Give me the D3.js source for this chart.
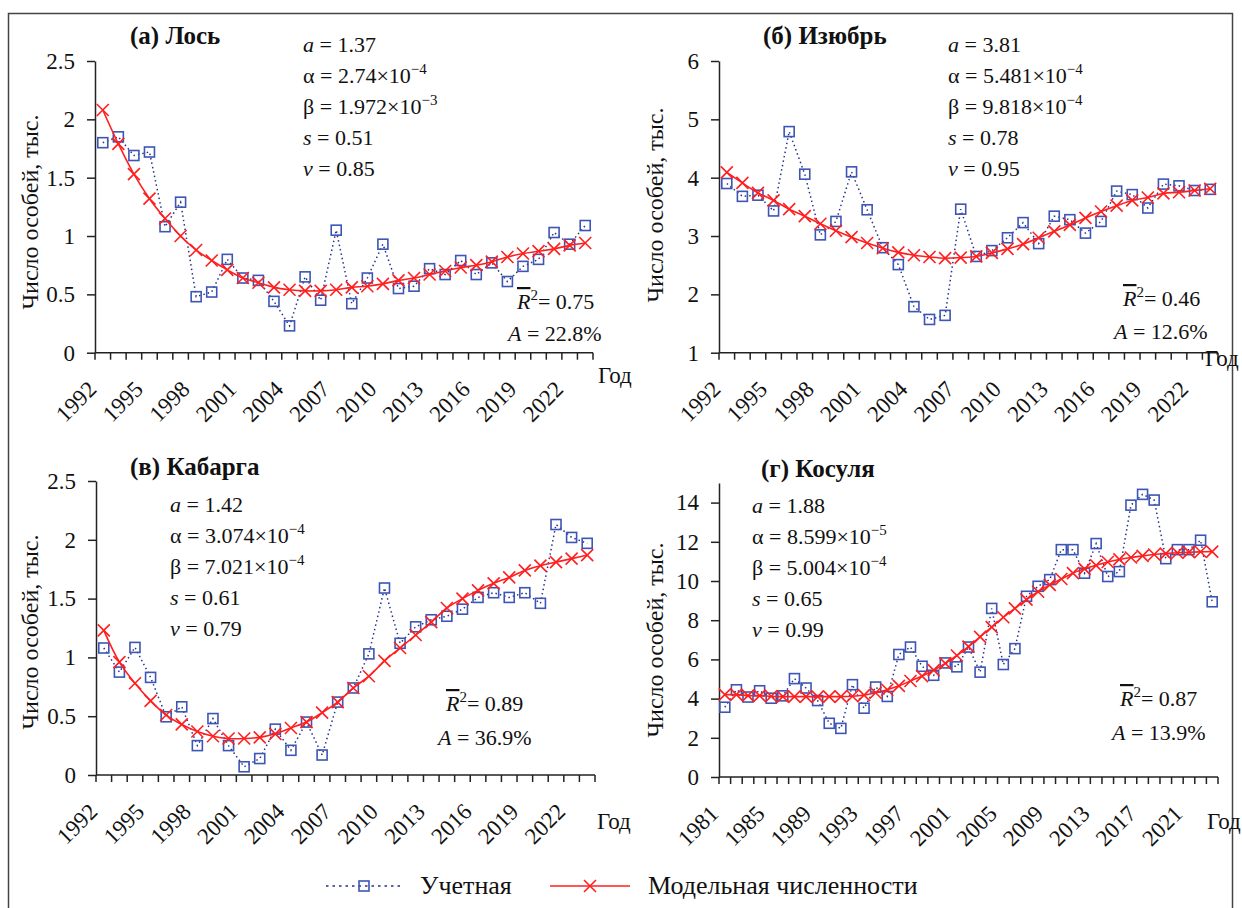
<!DOCTYPE html>
<html>
<head>
<meta charset="utf-8">
<script src="https://cdn.jsdelivr.net/npm/d3@7"></script>
<style>
  body { margin: 0; background: #fff; }
  svg { display: block; font-family: "Liberation Serif", "Times New Roman", serif; }
  svg text { font-family: "Liberation Serif", "Times New Roman", serif; fill: #111; }
  .axis path, .axis line { stroke: #222; stroke-width: 1.5; }
  .axis text { font-size: 23px; }
</style>
</head>
<body>
<div id="chart"></div>
<script>
var width = 1242, height = 908;

// categories
var years92 = [1992,1993,1994,1995,1996,1997,1998,1999,2000,2001,2002,2003,2004,2005,2006,2007,
               2008,2009,2010,2011,2012,2013,2014,2015,2016,2017,2018,2019,2020,2021,2022,2023];
var years81 = [1981,1982,1983,1984,1985,1986,1987,1988,1989,1990,1991,1992,1993,1994,1995,1996,1997,
               1998,1999,2000,2001,2002,2003,2004,2005,2006,2007,2008,2009,2010,2011,2012,2013,2014,
               2015,2016,2017,2018,2019,2020,2021,2022,2023];

// (а) Лось
var mooseObs   = [1.80,1.85,1.69,1.72,1.08,1.29,0.48,0.52,0.80,0.64,0.62,0.44,0.23,0.65,0.45,1.05,
                  0.42,0.64,0.93,0.55,0.57,0.72,0.67,0.79,0.67,0.77,0.61,0.74,0.80,1.03,0.93,1.09];
var mooseModel = [2.08,1.79,1.53,1.32,1.15,1.00,0.88,0.79,0.71,0.64,0.60,0.56,0.54,0.53,0.53,0.54,
                  0.56,0.57,0.59,0.62,0.64,0.67,0.70,0.73,0.75,0.78,0.82,0.85,0.87,0.89,0.92,0.94];
// (б) Изюбрь
var wapitiObs   = [3.90,3.68,3.70,3.43,4.79,4.06,3.02,3.25,4.10,3.45,2.80,2.51,1.79,1.57,1.64,3.46,
                   2.65,2.75,2.97,3.23,2.87,3.34,3.28,3.05,3.25,3.77,3.71,3.48,3.89,3.86,3.78,3.80];
var wapitiModel = [4.09,3.91,3.74,3.61,3.46,3.34,3.21,3.09,2.98,2.88,2.79,2.72,2.67,2.64,2.62,2.63,
                   2.65,2.71,2.78,2.86,2.97,3.08,3.19,3.31,3.42,3.52,3.61,3.66,3.73,3.75,3.78,3.81];
// (в) Кабарга
var muskObs   = [1.08,0.875,1.085,0.83,0.495,0.58,0.25,0.48,0.25,0.07,0.14,0.39,0.21,0.45,0.17,0.62,
                 0.74,1.03,1.59,1.12,1.26,1.32,1.35,1.41,1.51,1.55,1.51,1.55,1.46,2.13,2.02,1.97];
var muskModel = [1.23,0.96,0.78,0.63,0.51,0.43,0.37,0.33,0.31,0.31,0.32,0.35,0.40,0.45,0.53,0.62,
                 0.74,0.84,0.97,1.08,1.19,1.30,1.42,1.50,1.57,1.63,1.68,1.74,1.78,1.81,1.84,1.87];
// (г) Косуля
var roeObs   = [3.56,4.45,4.08,4.40,4.02,4.14,5.02,4.54,3.90,2.74,2.48,4.71,3.51,4.59,4.11,6.25,6.63,
                5.65,5.19,5.82,5.62,6.63,5.35,8.60,5.74,6.55,9.22,9.73,10.07,11.60,11.60,10.40,11.91,
                10.23,10.48,13.87,14.42,14.13,11.14,11.60,11.60,12.08,8.94];
var roeModel = [4.20,4.20,4.15,4.15,4.12,4.10,4.10,4.10,4.10,4.10,4.10,4.12,4.18,4.30,4.45,4.65,4.90,
                5.15,5.45,5.80,6.20,6.65,7.15,7.65,8.15,8.60,9.05,9.45,9.80,10.10,10.40,10.62,10.80,
                10.97,11.10,11.20,11.28,11.35,11.40,11.44,11.47,11.49,11.50];

// tick labels
var ticks25 = [0, 0.5, 1, 1.5, 2, 2.5];
var ticks16 = [1, 2, 3, 4, 5, 6];
var ticks14 = [0, 2, 4, 6, 8, 10, 12, 14];

// annotation texts: a, α mantissa, α exp, β mantissa, β exp, s, v, R², A
var textA = ["1.37", "2.74", "−4", "1.972", "−3", "0.51", "0.85", "0.75", "22.8%"];
var textB = ["3.81", "5.481", "−4", "9.818", "−4", "0.78", "0.95", "0.46", "12.6%"];
var textC = ["1.42", "3.074", "−4", "7.021", "−4", "0.61", "0.79", "0.89", "36.9%"];
var textD = ["1.88", "8.599", "−5", "5.004", "−4", "0.65", "0.99", "0.87", "13.9%"];

var blue = "#3d55b5", blueLine = "#25318f", red = "#ff1f1f";

var panels = [
  {title: "(а) Лось", years: years92, obs: mooseObs, model: mooseModel, dom: [0, 2.5], ticks: ticks25, txt: textA,
   x0: 95, x1: 593, yb: 352.7, yt: 61, every: 3, tx: 130, ty: 44, px: 303, py: 52, rx: 517, ry: 309, ax: 508, ay: 341,
   gx: 598, gy: 383, lx: 38, ly: 212},
  {title: "(б) Изюбрь", years: years92, obs: wapitiObs, model: wapitiModel, dom: [1, 6], ticks: ticks16, txt: textB,
   x0: 719, x1: 1218, yb: 352.7, yt: 61, every: 3, tx: 763, ty: 44, px: 948, py: 52, rx: 1123, ry: 306, ax: 1114, ay: 339,
   gx: 1205, gy: 366, lx: 663, ly: 205},
  {title: "(в) Кабарга", years: years92, obs: muskObs, model: muskModel, dom: [0, 2.5], ticks: ticks25, txt: textC,
   x0: 96, x1: 595, yb: 775, yt: 481, every: 3, tx: 130, ty: 475, px: 170, py: 512, rx: 446, ry: 711, ax: 438, ay: 745,
   gx: 597, gy: 829, lx: 38, ly: 632},
  {title: "(г) Косуля", years: years81, obs: roeObs, model: roeModel, dom: [0, 15], ticks: ticks14, txt: textD,
   x0: 719, x1: 1218, yb: 777, yt: 483, every: 4, tx: 761, ty: 477, px: 752, py: 513, rx: 1120, ry: 706, ax: 1112, ay: 740,
   gx: 1207, gy: 829, lx: 663, ly: 640}
];

var svg = d3.select("#chart").append("svg").attr("width", width).attr("height", height);

// outer frame
svg.append("rect").attr("x", 8.5).attr("y", 13.5).attr("width", 1224).attr("height", 1000)
  .attr("fill", "none").attr("stroke", "#444").attr("stroke-width", 1.5);

function drawSquare(g, x, y) {
  g.append("rect").attr("x", x - 5).attr("y", y - 5).attr("width", 10).attr("height", 10)
    .attr("fill", "none").attr("stroke", blue).attr("stroke-width", 1.6);
}
function drawCross(g, x, y) {
  g.append("path").attr("d", "M" + (x - 6) + "," + (y - 6) + "L" + (x + 6) + "," + (y + 6) +
    "M" + (x - 6) + "," + (y + 6) + "L" + (x + 6) + "," + (y - 6))
    .attr("stroke", red).attr("stroke-width", 1.6).attr("fill", "none");
}

panels.forEach(function(p) {
  var g = svg.append("g");
  var x = d3.scaleBand().domain(p.years).range([p.x0, p.x1]).padding(0);
  var y = d3.scaleLinear().domain(p.dom).range([p.yb, p.yt]);
  var cx = function(yr) { return x(yr) + x.bandwidth() / 2; };

  // y axis
  g.append("g").attr("class", "axis").attr("transform", "translate(" + p.x0 + ",0)")
    .call(d3.axisLeft(y).tickValues(p.ticks).tickSize(8).tickPadding(12).tickSizeOuter(0)
      .tickFormat(function(d) { return String(d); }))
    .attr("font-family", null).attr("font-size", null);

  // x axis line + ticks between categories
  var xa = g.append("g").attr("class", "axis");
  xa.append("line").attr("x1", p.x0).attr("x2", p.x1).attr("y1", p.yb).attr("y2", p.yb);
  xa.selectAll(".xt").data(p.years.concat([null])).enter().append("line")
    .attr("x1", function(d) { return d === null ? p.x1 : x(d); })
    .attr("x2", function(d) { return d === null ? p.x1 : x(d); })
    .attr("y1", p.yb).attr("y2", p.yb + 7);
  xa.selectAll(".xl").data(p.years.filter(function(d, i) { return i % p.every === 0; })).enter()
    .append("text")
    .attr("text-anchor", "end")
    .attr("transform", function(d) { return "translate(" + (cx(d) - 5) + "," + (p.yb + 38) + ") rotate(-45)"; })
    .text(function(d) { return d; });

  // observed series: dotted line + hollow squares
  var line = d3.line().x(function(d, i) { return cx(p.years[i]); }).y(function(d) { return y(d); });
  g.append("path").datum(p.obs).attr("d", line).attr("fill", "none").attr("stroke", blueLine)
    .attr("stroke-width", 1.5).attr("stroke-dasharray", "1.5,3");
  p.obs.forEach(function(v, i) { drawSquare(g, cx(p.years[i]), y(v)); });

  // model series: smooth red line + crosses
  var smooth = d3.line().curve(d3.curveCatmullRom)
    .x(function(d, i) { return cx(p.years[i]); }).y(function(d) { return y(d); });
  g.append("path").datum(p.model).attr("d", smooth).attr("fill", "none").attr("stroke", red).attr("stroke-width", 1.6);
  p.model.forEach(function(v, i) { drawCross(g, cx(p.years[i]), y(v)); });

  // titles and labels
  var fs = 22;
  g.append("text").attr("x", p.tx).attr("y", p.ty).attr("font-size", 25).attr("font-weight", "bold").text(p.title);
  g.append("text").attr("transform", "translate(" + p.lx + "," + p.ly + ") rotate(-90)")
    .attr("text-anchor", "middle").attr("font-size", 24).text("Число особей, тыс.");
  g.append("text").attr("x", p.gx).attr("y", p.gy).attr("font-size", 23).text("Год");

  // model parameters
  var t = p.txt, step = 31;
  var l1 = g.append("text").attr("x", p.px).attr("y", p.py).attr("font-size", fs);
  l1.append("tspan").attr("font-style", "italic").text("a");
  l1.append("tspan").text(" = " + t[0]);
  var l2 = g.append("text").attr("x", p.px).attr("y", p.py + step).attr("font-size", fs);
  l2.append("tspan").text("α = " + t[1] + "×10");
  l2.append("tspan").attr("font-size", 15).attr("dy", -9).text(t[2]);
  var l3 = g.append("text").attr("x", p.px).attr("y", p.py + 2 * step).attr("font-size", fs);
  l3.append("tspan").text("β = " + t[3] + "×10");
  l3.append("tspan").attr("font-size", 15).attr("dy", -9).text(t[4]);
  var l4 = g.append("text").attr("x", p.px).attr("y", p.py + 3 * step).attr("font-size", fs);
  l4.append("tspan").attr("font-style", "italic").text("s");
  l4.append("tspan").text(" = " + t[5]);
  var l5 = g.append("text").attr("x", p.px).attr("y", p.py + 4 * step).attr("font-size", fs);
  l5.append("tspan").attr("font-style", "italic").text("v");
  l5.append("tspan").text(" = " + t[6]);

  // goodness of fit
  var r = g.append("text").attr("x", p.rx).attr("y", p.ry).attr("font-size", fs);
  r.append("tspan").attr("font-style", "italic").style("text-decoration", "overline").text("R");
  r.append("tspan").attr("font-size", 15).attr("dy", -9).text("2");
  r.append("tspan").attr("dy", 9).text("= " + t[7]);
  var a = g.append("text").attr("x", p.ax).attr("y", p.ay).attr("font-size", fs);
  a.append("tspan").attr("font-style", "italic").text("A");
  a.append("tspan").text(" = " + t[8]);
});

// legend
var lg = svg.append("g");
var ly = 886;
lg.append("line").attr("x1", 326).attr("x2", 400).attr("y1", ly).attr("y2", ly)
  .attr("stroke", blueLine).attr("stroke-width", 1.5).attr("stroke-dasharray", "2.5,4");
drawSquare(lg, 364, ly);
lg.append("text").attr("x", 420).attr("y", ly + 8).attr("font-size", 26).text("Учетная");
lg.append("line").attr("x1", 550).attr("x2", 630).attr("y1", ly).attr("y2", ly)
  .attr("stroke", red).attr("stroke-width", 1.6);
drawCross(lg, 590, ly);
lg.append("text").attr("x", 648).attr("y", ly + 8).attr("font-size", 26).text("Модельная численности");
</script>
</body>
</html>
